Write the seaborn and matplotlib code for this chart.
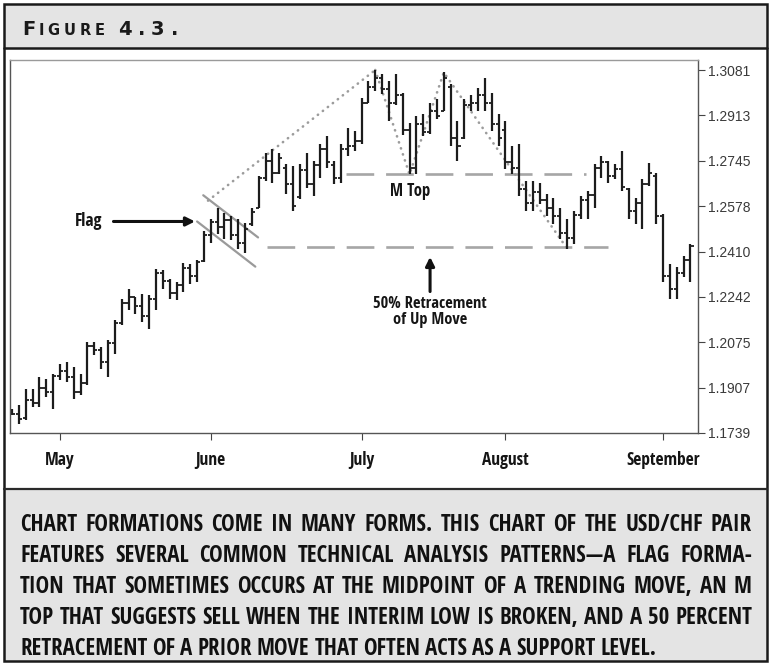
import os
import numpy as np
import pandas as pd
import seaborn as sns
import matplotlib.pyplot as plt
from matplotlib import font_manager as fm
from matplotlib.patches import Rectangle
from matplotlib.lines import Line2D

# ---- data: USD/CHF daily bars ----
start_date = "2005-04-21"

highs = [1.1828, 1.1843, 1.1902, 1.1902, 1.1947, 1.1939, 1.1958, 1.1995, 1.2002, 1.1984,
         1.1958, 1.2076, 1.2076, 1.2058, 1.2084, 1.2158, 1.2236, 1.2273, 1.2243, 1.2254,
         1.2251, 1.2347, 1.2343, 1.2310, 1.2299, 1.2366, 1.2362, 1.2380, 1.2484, 1.2532,
         1.2569, 1.2551, 1.2540, 1.2529, 1.2514, 1.2569, 1.2688, 1.2773, 1.2788, 1.2773,
         1.2733, 1.2725, 1.2733, 1.2773, 1.2744, 1.2807, 1.2836, 1.2744, 1.2807, 1.2866,
         1.2855, 1.2977, 1.3040, 1.3081, 1.3066, 1.3040, 1.3066, 1.2996, 1.2885, 1.2911,
         1.2918, 1.2959, 1.2974, 1.3072, 1.3029, 1.2892, 1.2974, 1.2988, 1.3014, 1.3051,
         1.2996, 1.2918, 1.2892, 1.2799, 1.2807, 1.2670, 1.2670, 1.2662, 1.2621, 1.2607,
         1.2569, 1.2532, 1.2558, 1.2614, 1.2633, 1.2733, 1.2762, 1.2744, 1.2733, 1.2781,
         1.2644, 1.2607, 1.2677, 1.2736, 1.2699, 1.2547, 1.2362, 1.2354, 1.2392, 1.2436]

lows = [1.1806, 1.1772, 1.1787, 1.1835, 1.1835, 1.1873, 1.1828, 1.1936, 1.1928, 1.1865,
        1.1880, 1.1917, 1.2028, 1.1976, 1.1947, 1.2032, 1.2139, 1.2195, 1.2180, 1.2151,
        1.2125, 1.2195, 1.2273, 1.2236, 1.2232, 1.2262, 1.2291, 1.2299, 1.2373, 1.2440,
        1.2473, 1.2458, 1.2454, 1.2421, 1.2403, 1.2503, 1.2569, 1.2670, 1.2662, 1.2695,
        1.2621, 1.2558, 1.2603, 1.2644, 1.2614, 1.2681, 1.2718, 1.2658, 1.2662, 1.2762,
        1.2781, 1.2807, 1.2959, 1.3003, 1.2992, 1.2892, 1.2951, 1.2840, 1.2695, 1.2695,
        1.2836, 1.2844, 1.2899, 1.2929, 1.2799, 1.2744, 1.2825, 1.2929, 1.2929, 1.2929,
        1.2855, 1.2799, 1.2714, 1.2695, 1.2614, 1.2558, 1.2558, 1.2584, 1.2540, 1.2510,
        1.2458, 1.2421, 1.2436, 1.2529, 1.2529, 1.2569, 1.2681, 1.2662, 1.2677, 1.2633,
        1.2529, 1.2510, 1.2495, 1.2651, 1.2510, 1.2299, 1.2236, 1.2236, 1.2317, 1.2299]

opens = [1.1815, 1.1810, 1.1795, 1.1860, 1.1850, 1.1905, 1.1890, 1.1950, 1.1970, 1.1945,
         1.1890, 1.1925, 1.2060, 1.2045, 1.2000, 1.2070, 1.2145, 1.2220, 1.2240, 1.2210,
         1.2170, 1.2235, 1.2330, 1.2300, 1.2255, 1.2285, 1.2350, 1.2320, 1.2375, 1.2470,
         1.2520, 1.2500, 1.2525, 1.2470, 1.2440, 1.2510, 1.2570, 1.2680, 1.2745, 1.2700,
         1.2720, 1.2660, 1.2610, 1.2710, 1.2660, 1.2730, 1.2790, 1.2730, 1.2680, 1.2790,
         1.2800, 1.2820, 1.2960, 1.3020, 1.3050, 1.3010, 1.2960, 1.2990, 1.2860, 1.2720,
         1.2880, 1.2850, 1.2930, 1.2930, 1.3020, 1.2830, 1.2830, 1.2950, 1.2960, 1.2990,
         1.2960, 1.2880, 1.2860, 1.2740, 1.2720, 1.2640, 1.2590, 1.2630, 1.2600, 1.2570,
         1.2540, 1.2480, 1.2460, 1.2545, 1.2600, 1.2620, 1.2720, 1.2740, 1.2690, 1.2715,
         1.2640, 1.2560, 1.2590, 1.2660, 1.2690, 1.2540, 1.2320, 1.2270, 1.2330, 1.2380]

closes = [1.1810, 1.1790, 1.1860, 1.1850, 1.1905, 1.1890, 1.1950, 1.1970, 1.1945, 1.1890,
          1.1925, 1.2060, 1.2045, 1.2000, 1.2070, 1.2145, 1.2220, 1.2240, 1.2210, 1.2170,
          1.2235, 1.2330, 1.2300, 1.2255, 1.2285, 1.2350, 1.2320, 1.2370, 1.2470, 1.2520,
          1.2500, 1.2525, 1.2470, 1.2440, 1.2495, 1.2555, 1.2680, 1.2745, 1.2700, 1.2755,
          1.2660, 1.2580, 1.2710, 1.2660, 1.2730, 1.2790, 1.2740, 1.2680, 1.2790, 1.2800,
          1.2820, 1.2960, 1.3020, 1.3050, 1.3010, 1.2960, 1.2990, 1.2860, 1.2720, 1.2880,
          1.2850, 1.2930, 1.2910, 1.3050, 1.2830, 1.2800, 1.2950, 1.2960, 1.2990, 1.2960,
          1.2880, 1.2830, 1.2740, 1.2720, 1.2640, 1.2590, 1.2630, 1.2600, 1.2570, 1.2540,
          1.2480, 1.2460, 1.2545, 1.2600, 1.2620, 1.2720, 1.2740, 1.2690, 1.2715, 1.2650,
          1.2560, 1.2590, 1.2660, 1.2700, 1.2540, 1.2320, 1.2270, 1.2330, 1.2380, 1.2430]

price_ticks = [1.3081, 1.2913, 1.2745, 1.2578, 1.2410, 1.2242, 1.2075, 1.1907, 1.1739]
month_labels = ["May", "June", "July", "August", "September"]

# pattern anchors (bar index of the swing points)
peak1_bar, trough_bar, peak2_bar, breakdown_bar = 53, 58, 63, 81
flag_upper = ([27.9, 35.9], [1.2618, 1.2462])
flag_lower = ([27.0, 35.5], [1.2521, 1.2354])
trend_start = (28.6, 1.2598)

caption_lines = [
    "CHART FORMATIONS COME IN MANY FORMS.  THIS CHART OF THE USD/CHF PAIR",
    "FEATURES SEVERAL COMMON TECHNICAL ANALYSIS PATTERNS\u2014A FLAG FORMA-",
    "TION THAT SOMETIMES OCCURS AT THE MIDPOINT OF A TRENDING MOVE, AN M",
    "TOP THAT SUGGESTS SELL WHEN THE INTERIM LOW IS BROKEN, AND A 50 PERCENT",
    "RETRACEMENT OF A PRIOR MOVE THAT OFTEN ACTS AS A SUPPORT LEVEL.",
]

#################

def condensed_bold():
    # first installed condensed / narrow bold face
    cands = [("Noto Sans", "extra-condensed"), ("Noto Sans", "condensed"),
             ("Liberation Sans Narrow", "normal"), ("Open Sans Condensed", "normal"),
             ("Open Sans", "condensed"), ("DejaVu Sans", "condensed"),
             ("Roboto Condensed", "normal"), ("Roboto", "condensed")]
    for fam, st in cands:
        try:
            p = fm.findfont(fm.FontProperties(family=fam, stretch=st, weight="bold"),
                            fallback_to_default=False)
        except ValueError:
            continue
        name = os.path.basename(p).lower()
        if "cond" in name or "narrow" in name:
            return p
    return fm.findfont(fm.FontProperties(family="DejaVu Sans", weight="bold"))

sns.set_theme(style="white")
plt.rcParams["font.family"] = ["Liberation Sans", "DejaVu Sans"]
cond_path = condensed_bold()

def cfont(size):
    return fm.FontProperties(fname=cond_path, size=size)

df = pd.DataFrame({"date": pd.bdate_range(start_date, periods=len(highs)),
                   "open": opens, "high": highs, "low": lows, "close": closes})
df["i"] = np.arange(len(df))
month_pos = df.groupby(df["date"].dt.month)["i"].min().loc[[5, 6, 7, 8, 9]].values

W, H = 771, 666
fig = plt.figure(figsize=(W / 100, H / 100), dpi=100)
fig.patch.set_facecolor("white")

def fx(px):
    return px / W

def fy(py):
    return 1 - py / H

# header and caption panels
fig.add_artist(Rectangle((fx(4), fy(48)), fx(767) - fx(4), 44 / H, transform=fig.transFigure,
                         facecolor="#e4e4e4", edgecolor="none"))
fig.add_artist(Rectangle((fx(4), fy(661)), fx(767) - fx(4), 172 / H, transform=fig.transFigure,
                         facecolor="#e4e4e4", edgecolor="none"))
fig.add_artist(Line2D([fx(4), fx(767)], [fy(48), fy(48)], color="#1a1a1a", lw=1.8))
fig.add_artist(Line2D([fx(4), fx(767)], [fy(489), fy(489)], color="#2a2a2a", lw=1.6))
fig.add_artist(Rectangle((fx(4), fy(661)), fx(767) - fx(4), 657 / H, transform=fig.transFigure,
                         fill=False, edgecolor="#1a1a1a", lw=1.8))

# price chart
ax = fig.add_axes([fx(10), fy(433), fx(698) - fx(10), (433 - 60) / H])
ax.set_facecolor("white")
bar_col = "#1c1c1c"
ax.vlines(df["i"], df["low"], df["high"], color=bar_col, lw=1.6)
ax.hlines(df["open"], df["i"] - 0.45, df["i"], color=bar_col, lw=1.3)
ax.hlines(df["close"], df["i"], df["i"] + 0.45, color=bar_col, lw=1.3)

# 50% retracement and M-top neckline
retrace = (min(lows) + max(highs)) / 2
neckline = lows[trough_bar]
dash_kw = dict(color="#a6a6a6", lw=1.9, dashes=(10.5, 4.5), zorder=1)
ax.plot([37.2, 87.0], [retrace, retrace], **dash_kw)
ax.plot([48.8, 83.8], [neckline, neckline], **dash_kw)

# dotted trend / M-top outline
dot_kw = dict(color="#9c9c9c", lw=1.9, linestyle=(0, (0.1, 2.3)), dash_capstyle="round",
              zorder=1, legend=False, sort=False, estimator=None)
trend = pd.DataFrame({"x": [trend_start[0], peak1_bar], "y": [trend_start[1], highs[peak1_bar]]})
sns.lineplot(data=trend, x="x", y="y", ax=ax, **dot_kw)
m_path = pd.DataFrame({"x": [peak1_bar, trough_bar, peak2_bar, breakdown_bar],
                       "y": [highs[peak1_bar], neckline, highs[peak2_bar], lows[breakdown_bar]]})
sns.lineplot(data=m_path, x="x", y="y", ax=ax, **dot_kw)

# flag channel
ax.plot(*flag_upper, color="#9a9a9a", lw=1.6, zorder=1)
ax.plot(*flag_lower, color="#9a9a9a", lw=1.6, zorder=1)

lab = dict(color="#151515", ha="center", va="center")
ax.text(11.1, 1.2521, "Flag", fontproperties=cfont(12.5), **lab)
ax.annotate("", xy=(26.7, 1.2521), xytext=(14.8, 1.2521),
            arrowprops=dict(arrowstyle="-|>", color="#111111", lw=2.2, mutation_scale=13,
                            shrinkA=0, shrinkB=0))
ax.text(58.1, 1.2632, "M Top", fontproperties=cfont(12), **lab)
ax.annotate("", xy=(61.0, 1.2390), xytext=(61.0, 1.2262),
            arrowprops=dict(arrowstyle="-|>", color="#111111", lw=2.2, mutation_scale=13,
                            shrinkA=0, shrinkB=0))
ax.text(61.0, 1.2187, "50% Retracement\nof Up Move", fontproperties=cfont(11.8),
        linespacing=0.95, multialignment="center", **lab)

ax.set_xlim(-0.3, 100.1)
ax.set_ylim(1.1739, 1.3118)
ax.yaxis.tick_right()
ax.set_yticks(price_ticks)
ax.set_yticklabels([f"{v:.4f}" for v in price_ticks], fontsize=10, color="#3a3a3a")
ax.set_xticks(month_pos)
ax.set_xticklabels(month_labels, fontproperties=cfont(12.5), color="#151515")
ax.tick_params(axis="y", which="both", right=True, left=False, length=5, width=0.8,
               color="#444444", pad=2)
ax.tick_params(axis="x", which="both", bottom=True, length=5, width=0.8, color="#444444", pad=8)
for side, sp in ax.spines.items():
    sp.set_color("#555555")
    sp.set_linewidth(1.0)
ax.spines["top"].set_color("#9a9a9a")
ax.set_xlabel("")
ax.set_ylabel("")

# header "Figure 4.3." in spaced small caps
fig.canvas.draw()
r = fig.canvas.get_renderer()

def place_pieces(x, base_y, pieces, family, weight):
    for s, size, track in pieces:
        if s == " ":
            x += size
            continue
        t = fig.text(fx(x), fy(base_y), s, fontsize=size, fontfamily=family,
                     fontweight=weight, color="#1a1a1a", va="baseline", ha="left")
        x += t.get_window_extent(r).width + track

head = ([("F", 14, 3.0)] + [(c, 10.5, 4.0) for c in "IGURE"] + [(" ", 9, 0)]
        + [(c, 14, 6.0) for c in "4.3."])
place_pieces(22, 35, head, "DejaVu Sans", "bold")

# justified caption
cap_size = 16.5
left, right = 20, 752
baselines = [531, 562, 593, 624, 655]

def word_widths(words, size):
    out = []
    for w in words:
        t = fig.text(0, 0, w, fontproperties=cfont(size))
        out.append(t.get_window_extent(r).width)
        t.remove()
    return out

nat = []
for line in caption_lines[:-1]:
    ws = word_widths(line.split(), cap_size)
    nat.append(sum(ws) + 3 * (len(ws) - 1))
cap_size = cap_size * min(1.0, (right - left) / max(nat))

for k, line in enumerate(caption_lines):
    words = line.split()
    ws = word_widths(words, cap_size)
    if k < len(caption_lines) - 1:
        gap = (right - left - sum(ws)) / (len(words) - 1)
    else:
        gap = cap_size * 0.3
    x = left
    for w, wd in zip(words, ws):
        fig.text(fx(x), fy(baselines[k]), w, fontproperties=cfont(cap_size),
                 color="#111111", va="baseline", ha="left")
        x += wd + gap

fig.savefig("out.png", dpi=100)
